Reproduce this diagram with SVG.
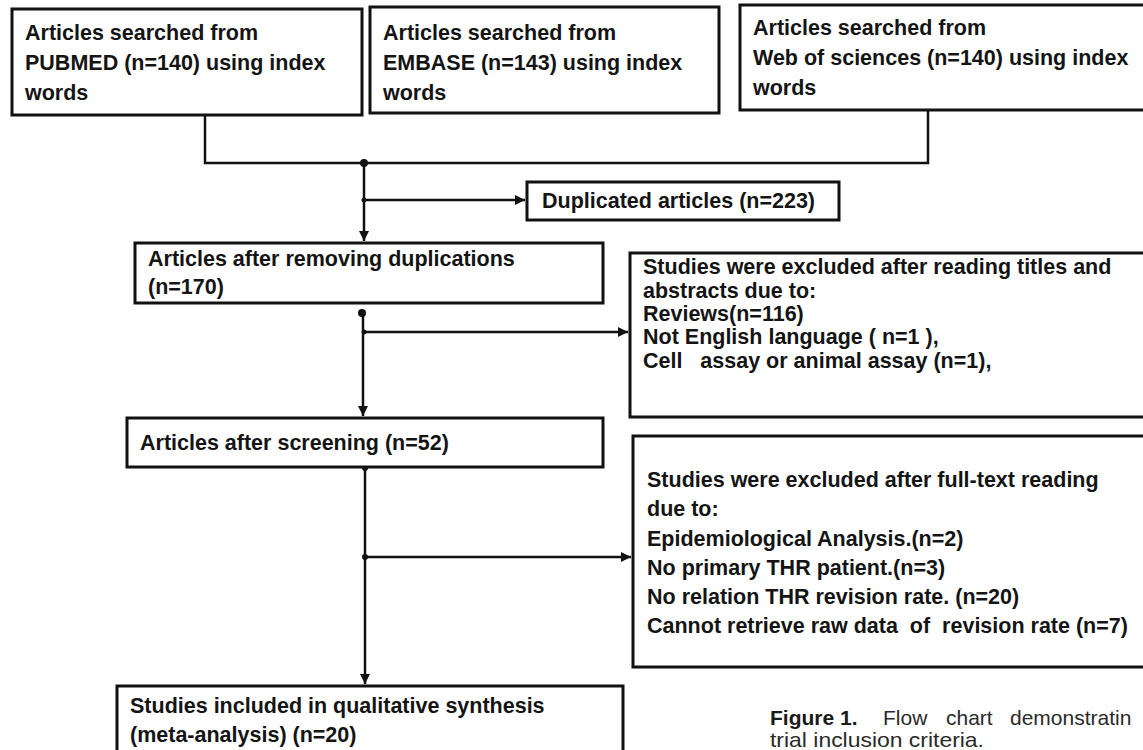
<svg xmlns="http://www.w3.org/2000/svg" width="1143" height="750" viewBox="0 0 1143 750">
<defs>
<marker id="ah" viewBox="0 0 10 10" refX="10" refY="5" markerWidth="4" markerHeight="4" markerUnits="strokeWidth" orient="auto">
<path d="M0,0 L10,5 L0,10 z" fill="#111"/>
</marker>
<style>
.box{fill:#fff;stroke:#111;stroke-width:3}
.t{font-family:"Liberation Sans",Arial,sans-serif;font-weight:bold;font-size:21.5px;fill:#141414}
.ln{fill:none;stroke:#111;stroke-width:2.5}
.dot{fill:#111}
.cap{font-family:"Liberation Sans",Arial,sans-serif;font-size:21px;fill:#2a2a2a}
</style>
</defs>
<rect width="1143" height="750" fill="#fff"/>
<g id="connectors">
<path class="ln" d="M205,115 V163 H928 V110"/>
<path class="ln" d="M364,163 V241" marker-end="url(#ah)"/>
<path class="ln" d="M364,200 H525" marker-end="url(#ah)"/>
<path class="ln" d="M363,312 V416" marker-end="url(#ah)"/>
<path class="ln" d="M364,332 H628" marker-end="url(#ah)"/>
<path class="ln" d="M365,467 V684" marker-end="url(#ah)"/>
<path class="ln" d="M365,557 H631" marker-end="url(#ah)"/>
<circle class="dot" cx="364" cy="163" r="4"/>
<circle class="dot" cx="364" cy="200" r="2.5"/>
<circle class="dot" cx="362" cy="313" r="4"/>
<circle class="dot" cx="364" cy="332" r="2.5"/>
<circle class="dot" cx="365" cy="468" r="3"/>
<circle class="dot" cx="365" cy="557" r="3"/>
</g>
<g id="pubmed">
<rect class="box" x="12" y="9" width="350" height="106"/>
<text class="t" x="25" y="40">Articles searched from</text>
<text class="t" x="25" y="70">PUBMED (n=140) using index</text>
<text class="t" x="25" y="100">words</text>
</g>
<g id="embase">
<rect class="box" x="370" y="7" width="349" height="106"/>
<text class="t" x="383" y="40">Articles searched from</text>
<text class="t" x="383" y="70">EMBASE (n=143) using index</text>
<text class="t" x="383" y="100">words</text>
</g>
<g id="wos">
<rect class="box" x="740" y="5" width="410" height="105"/>
<text class="t" x="753" y="35">Articles searched from</text>
<text class="t" x="753" y="65">Web of sciences (n=140) using index</text>
<text class="t" x="753" y="95">words</text>
</g>
<g id="duplicated">
<rect class="box" x="527" y="182" width="312" height="38"/>
<text class="t" x="542" y="208">Duplicated articles (n=223)</text>
</g>
<g id="removed">
<rect class="box" x="135" y="243" width="468" height="60"/>
<text class="t" x="148" y="266">Articles after removing duplications</text>
<text class="t" x="148" y="294">(n=170)</text>
</g>
<g id="excl1">
<rect class="box" x="630" y="253" width="520" height="164"/>
<text class="t" x="643" y="274">Studies were excluded after reading titles and</text>
<text class="t" x="643" y="298">abstracts due to:</text>
<text class="t" x="643" y="321">Reviews(n=116)</text>
<text class="t" x="643" y="344">Not English language ( n=1 ),</text>
<text class="t" x="643" y="368">Cell&#160;&#160; assay or animal assay (n=1),</text>
</g>
<g id="screening">
<rect class="box" x="127" y="418" width="476" height="49"/>
<text class="t" x="140" y="450">Articles after screening (n=52)</text>
</g>
<g id="excl2">
<rect class="box" x="633" y="436" width="520" height="231"/>
<text class="t" x="647" y="487">Studies were excluded after full-text reading</text>
<text class="t" x="647" y="516">due to:</text>
<text class="t" x="647" y="546">Epidemiological Analysis.(n=2)</text>
<text class="t" x="647" y="575">No primary THR patient.(n=3)</text>
<text class="t" x="647" y="604">No relation THR revision rate. (n=20)</text>
<text class="t" x="647" y="633">Cannot retrieve raw data&#160; of&#160; revision rate (n=7)</text>
</g>
<g id="included">
<rect class="box" x="117" y="686" width="506" height="80"/>
<text class="t" x="130" y="713">Studies included in qualitative synthesis</text>
<text class="t" x="130" y="742">(meta-analysis) (n=20)</text>
</g>
<g id="caption">
<text class="cap" y="725"><tspan x="770" font-weight="bold" fill="#1a1a1a">Figure 1.</tspan><tspan x="883">Flow</tspan><tspan x="946">chart</tspan><tspan x="1010">demonstratin</tspan></text>
<text class="cap" x="770" y="747" textLength="214" lengthAdjust="spacingAndGlyphs">trial inclusion criteria.</text>
</g>
</svg>
